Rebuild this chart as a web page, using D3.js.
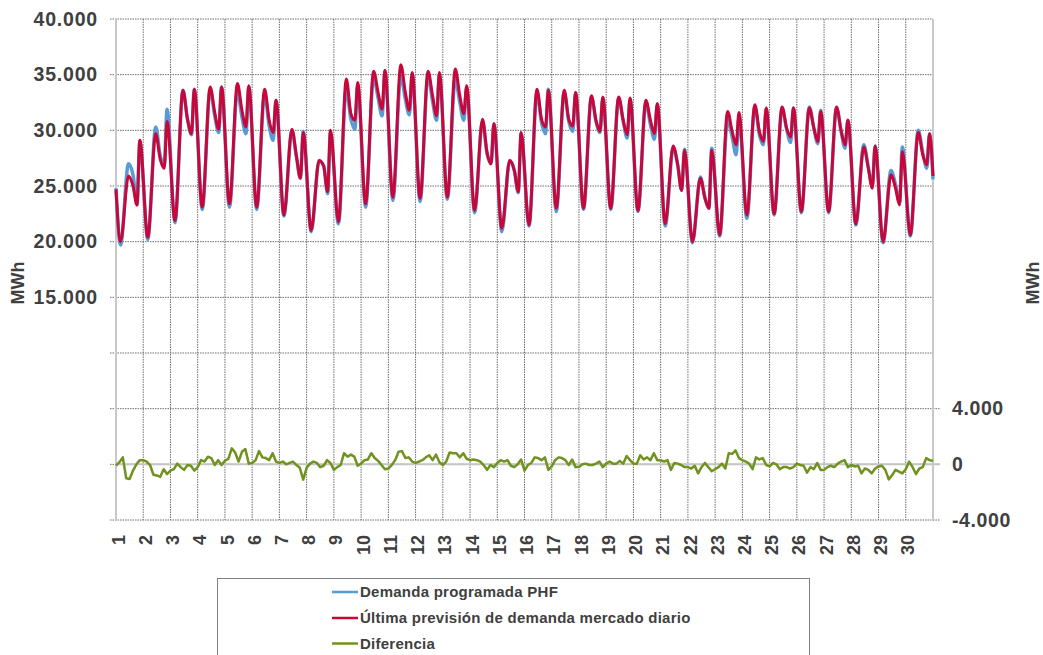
<!DOCTYPE html>
<html>
<head>
<meta charset="utf-8">
<script src="https://cdn.jsdelivr.net/npm/d3@7"></script>
<style>
body { margin: 0; background: #fff; }
text { font-family: "Liberation Sans", Arial, sans-serif; font-weight: bold; fill: #404040; }
</style>
</head>
<body>
<svg id="chart" width="1043" height="655"></svg>
<script>
// hours of the day where each daily value was read: night min, morning peak, afternoon, dip, evening spike
var keyHours = [4, 11, 15, 18.5, 21];

// Última previsión de demanda mercado diario (MWh), one row per day
var prevision = [
  [20000, 25900, 25000, 23300, 29100], [20400, 29700, 27400, 26600, 30800],
  [21900, 33600, 31000, 29700, 33700], [23100, 33900, 31600, 30100, 33900],
  [23400, 34200, 31800, 30300, 34000], [23100, 33700, 30900, 29800, 32700],
  [22400, 30100, 27700, 25700, 29800], [21000, 27300, 26800, 24500, 30000],
  [21800, 34600, 31500, 30900, 34300], [23400, 35300, 33400, 31900, 35400],
  [24000, 35900, 33400, 31800, 35200], [23900, 35300, 33100, 31300, 35200],
  [24000, 35500, 33100, 31500, 34000], [22800, 31000, 28000, 27000, 30600],
  [21200, 27300, 26400, 24500, 29800], [21500, 33700, 31000, 30300, 33600],
  [23000, 33600, 31000, 30400, 33400], [23000, 33100, 30900, 29900, 33000],
  [23000, 33000, 30900, 29600, 32900], [22800, 32700, 30900, 29700, 32400],
  [21600, 28600, 26900, 24600, 28200], [20000, 25700, 23900, 23000, 28200],
  [20600, 31700, 29900, 28700, 31600], [22400, 32300, 29900, 29000, 32000],
  [22500, 32100, 30200, 29400, 32000], [22700, 32000, 30200, 29000, 31700],
  [22700, 32100, 30000, 28700, 30900], [21600, 28500, 26600, 24800, 28600],
  [20000, 26000, 24800, 23300, 28100], [20600, 29800, 27800, 26900, 29700]
];
var previsionStart = 24700, previsionEnd = 25900;

// Demanda programada PHF (MWh)
var programada = [
  [19700, 27000, 26000, 23300, 29000], [20200, 30300, 27700, 26900, 31900],
  [21700, 33600, 31000, 29600, 33700], [22900, 33700, 31300, 29800, 33900],
  [23100, 33500, 31200, 29700, 33900], [22900, 33300, 30400, 29100, 32700],
  [22300, 30000, 27600, 25700, 29900], [20900, 27300, 26800, 24300, 29800],
  [21600, 33700, 31000, 30100, 34000], [23100, 34800, 32900, 31300, 35300],
  [23700, 34900, 32800, 31400, 35100], [23600, 34900, 32600, 30900, 35000],
  [23800, 34600, 32500, 30900, 33800], [22600, 30800, 27900, 27000, 30600],
  [20900, 27300, 26400, 24400, 29700], [21400, 33400, 30700, 29700, 33700],
  [22700, 33400, 30800, 29900, 33400], [22900, 33000, 30800, 29800, 32900],
  [22900, 32900, 30800, 29300, 32800], [22700, 32500, 30500, 29200, 32300],
  [21400, 28400, 26900, 24600, 28300], [19900, 25800, 24000, 23000, 28400],
  [20500, 30900, 29400, 27800, 31200], [22100, 32100, 29600, 28700, 31900],
  [22400, 32000, 30100, 28900, 32000], [22600, 32100, 30200, 28800, 31800],
  [22600, 32000, 29900, 28400, 30900], [21500, 28700, 26700, 25000, 28600],
  [19900, 26400, 25100, 23500, 28500], [20500, 30000, 28000, 26600, 29700]
];
var programadaStart = 24800, programadaEnd = 25600;

// Diferencia (MWh), read every 3 hours: 0, 3, 6, ... 21
var diffHours = [0, 3, 6, 9, 12, 15, 18, 21];
var diferencia = [
  [-100, 150, 500, -1000, -1050, -450, 0, 300], [300, 200, -50, -750, -800, -900, -350, -700],
  [-450, -350, 50, -200, -400, -50, -100, -450], [-200, 300, 200, 550, 450, -50, 300, -50],
  [250, 400, 1150, 850, 200, 900, 1100, 50], [100, 300, 950, 500, 450, 300, 800, 200],
  [100, 200, 0, 100, 200, -50, -250, -1100], [-250, 50, 200, 100, -200, -100, 300, 100],
  [-400, -200, -50, 800, 550, 700, 550, -100], [50, 300, 350, 800, 450, 250, -50, -350],
  [-300, -50, 300, 900, 950, 450, 500, 200], [100, 200, 300, 500, 650, 300, 700, 150],
  [-50, 200, 850, 800, 800, 500, 800, 400], [300, 350, 300, 200, -50, -400, -50, -200],
  [100, 300, 200, 300, -100, -200, 0, 350], [-450, -50, 100, 500, 450, 300, 500, -400],
  [-150, 300, 500, 450, 300, -50, 350, -200], [-200, 0, 50, -50, -50, 50, 200, -200],
  [50, 200, 50, 50, 250, 50, 600, 300], [50, 50, 650, 350, 500, 300, 800, 300],
  [300, 200, 300, -400, 100, 50, -50, -200], [-200, -300, -100, -650, -200, 100, -200, -500],
  [-350, -200, 50, -300, 800, 750, 1000, 450], [300, 200, 50, -350, 500, 350, 450, -50],
  [-150, 100, 0, -350, -200, -200, -300, -200], [50, -50, -100, -600, -200, -350, 100, -400],
  [-400, -200, -100, -200, 50, 200, 300, -200], [-50, -150, -100, -650, -300, -400, -650, -300],
  [-150, -100, -400, -1080, -770, -400, -530, -650], [-350, 200, -200, -700, -300, -200, 450, 300]
];
var diferenciaEnd = 250;

var days = d3.range(1, 31);
var leftTicks = [15000, 20000, 25000, 30000, 35000, 40000];
var rightTicks = [-4000, 0, 4000];
var legendLabels = ["Demanda programada PHF", "Última previsión de demanda mercado diario", "Diferencia"];
var colors = ["#5B9BD5", "#C8063A", "#70921E"];

var margin = { top: 19, right: 110, bottom: 135, left: 116 };
var width = 1043 - margin.left - margin.right,
    height = 655 - margin.top - margin.bottom;

var locale = d3.formatLocale({ decimal: ",", thousands: ".", grouping: [3], currency: ["", ""], minus: "-" });
var fmt = locale.format(",d");

var svg = d3.select("#chart").append("g")
    .attr("transform", "translate(" + margin.left + "," + margin.top + ")");

var xScale = d3.scaleLinear().domain([0, 720]).range([0, width]);
var yLeft = d3.scaleLinear().domain([-5000, 40000]).range([height, 0]);
var yRight = d3.scaleLinear().domain([-4000, 32000]).range([height, 0]);

function toPoints(rows, hours, start, end) {
  var pts = [];
  if (start !== null) pts.push({ h: 0, v: start });
  rows.forEach(function(row, d) {
    row.forEach(function(v, i) { pts.push({ h: d * 24 + hours[i], v: v }); });
  });
  pts.push({ h: 720, v: end });
  return pts;
}

// grid
var hGrid = d3.range(-5000, 40001, 5000);
svg.selectAll(".hgrid").data(hGrid).enter().append("line")
    .attr("x1", -6).attr("x2", width)
    .attr("y1", function(d) { return yLeft(d); })
    .attr("y2", function(d) { return yLeft(d); })
    .attr("stroke", "#6e6e6e").attr("stroke-width", 1)
    .attr("stroke-dasharray", "1.5,1");
svg.selectAll(".rtick").data(rightTicks).enter().append("line")
    .attr("x1", width).attr("x2", width + 7)
    .attr("y1", function(d) { return yRight(d); })
    .attr("y2", function(d) { return yRight(d); })
    .attr("stroke", "#6e6e6e").attr("stroke-dasharray", "1.5,1");
svg.selectAll(".vgrid").data(d3.range(0, 721, 24)).enter().append("line")
    .attr("x1", function(d) { return xScale(d); })
    .attr("x2", function(d) { return xScale(d); })
    .attr("y1", 0).attr("y2", height)
    .attr("stroke", function(d) { return (d === 0 || d === 720) ? "#c8c8c8" : "#6e6e6e"; })
    .attr("stroke-width", function(d) { return (d === 0 || d === 720) ? 2 : 1; })
    .attr("stroke-dasharray", function(d) { return (d === 0 || d === 720) ? null : "1.5,1"; });
svg.append("line")
    .attr("x1", 0).attr("x2", width + 7)
    .attr("y1", yRight(0)).attr("y2", yRight(0))
    .attr("stroke", "#c4c4c4").attr("stroke-width", 2);

// series
var demandLine = d3.line()
    .x(function(d) { return xScale(d.h); })
    .y(function(d) { return yLeft(d.v); })
    .curve(d3.curveMonotoneX);
var diffLine = d3.line()
    .x(function(d) { return xScale(d.h); })
    .y(function(d) { return yRight(d.v); });

svg.append("path")
    .datum(toPoints(programada, keyHours, programadaStart, programadaEnd))
    .attr("d", demandLine)
    .attr("fill", "none").attr("stroke", colors[0]).attr("stroke-width", 3.5)
    .attr("stroke-linejoin", "round");
svg.append("path")
    .datum(toPoints(prevision, keyHours, previsionStart, previsionEnd))
    .attr("d", demandLine)
    .attr("fill", "none").attr("stroke", colors[1]).attr("stroke-width", 3)
    .attr("stroke-linejoin", "round");
svg.append("path")
    .datum(toPoints(diferencia, diffHours, null, diferenciaEnd))
    .attr("d", diffLine)
    .attr("fill", "none").attr("stroke", colors[2]).attr("stroke-width", 2.5)
    .attr("stroke-linejoin", "round");

// axes
var leftAxis = svg.append("g")
    .call(d3.axisLeft(yLeft).tickValues(leftTicks).tickFormat(fmt).tickSize(0).tickPadding(18));
var rightAxis = svg.append("g")
    .attr("transform", "translate(" + width + ",0)")
    .call(d3.axisRight(yRight).tickValues(rightTicks).tickFormat(fmt).tickSize(0).tickPadding(19));
var xAxis = svg.append("g")
    .attr("transform", "translate(0," + height + ")")
    .call(d3.axisBottom(xScale).tickValues(days.map(function(d) { return (d - 1) * 24; }))
      .tickFormat(function(h) { return h / 24 + 1; }).tickSize(0));
svg.selectAll(".domain").remove();
leftAxis.selectAll("text").style("font-size", "19.5px").style("letter-spacing", "0.8px");
rightAxis.selectAll("text").style("font-size", "19.5px").style("letter-spacing", "0.6px");
xAxis.selectAll("text")
    .attr("transform", "rotate(-90)")
    .attr("x", -15).attr("y", 0).attr("dy", "0.45em")
    .style("text-anchor", "end").style("font-size", "18px");

svg.append("text")
    .attr("transform", "translate(" + (18 - margin.left) + "," + (283 - margin.top) + ") rotate(-90)")
    .attr("text-anchor", "middle").attr("dy", "0.35em")
    .style("font-size", "18px").text("MWh");
svg.append("text")
    .attr("transform", "translate(" + (1033 - margin.left) + "," + (283 - margin.top) + ") rotate(-90)")
    .attr("text-anchor", "middle").attr("dy", "0.35em")
    .style("font-size", "18px").text("MWh");

// legend
var legend = d3.select("#chart").append("g");
legend.append("rect")
    .attr("x", 217.5).attr("y", 578.5).attr("width", 592).attr("height", 100)
    .attr("fill", "#fff").attr("stroke", "#7f7f7f");
var items = legend.selectAll(".item").data(legendLabels).enter().append("g")
    .attr("transform", function(d, i) { return "translate(332," + [592, 618, 643.5][i] + ")"; });
items.append("line")
    .attr("x1", 0).attr("x2", 26)
    .attr("stroke", function(d, i) { return colors[i]; }).attr("stroke-width", 2.5);
items.append("text")
    .attr("x", 28).attr("dy", "0.35em")
    .style("font-size", "15px").style("letter-spacing", "0.25px")
    .text(function(d) { return d; });
</script>
</body>
</html>
